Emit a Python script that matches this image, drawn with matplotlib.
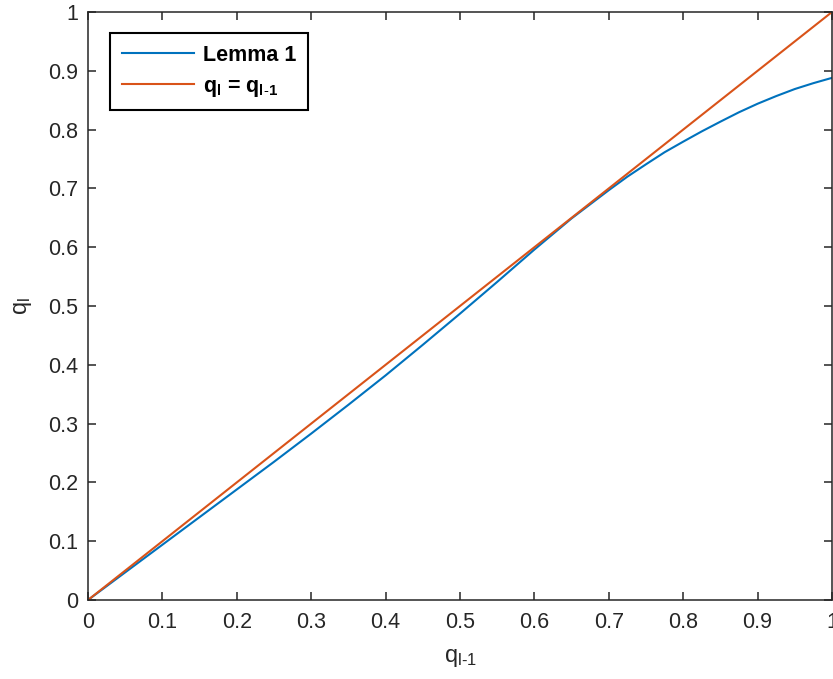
import numpy as np
import matplotlib
matplotlib.use("Agg")
import matplotlib.pyplot as plt

# Data
q_prev = [0.0, 0.05, 0.1, 0.15, 0.2, 0.25, 0.3, 0.35, 0.4, 0.45, 0.5,
          0.55, 0.6, 0.65, 0.7, 0.725, 0.75, 0.775, 0.8, 0.825, 0.85,
          0.875, 0.9, 0.925, 0.95, 0.975, 1.0]
lemma1 = [0.0, 0.047, 0.094, 0.141, 0.188, 0.235, 0.283, 0.332, 0.382, 0.434, 0.487,
          0.541, 0.596, 0.649, 0.697, 0.720, 0.741, 0.7615, 0.7795, 0.797, 0.8135,
          0.8295, 0.844, 0.857, 0.869, 0.879, 0.888]
identity_x = [0.0, 1.0]
identity_y = [0.0, 1.0]
ticks = [0, 0.1, 0.2, 0.3, 0.4, 0.5, 0.6, 0.7, 0.8, 0.9, 1]
tick_labels = ["0", "0.1", "0.2", "0.3", "0.4", "0.5", "0.6", "0.7", "0.8", "0.9", "1"]

plt.rcParams["font.family"] = ["Liberation Sans", "DejaVu Sans"]
plt.rcParams["mathtext.fontset"] = "custom"
plt.rcParams["mathtext.rm"] = "Liberation Sans"
plt.rcParams["mathtext.it"] = "Liberation Sans"
plt.rcParams["mathtext.bf"] = "Liberation Sans:bold"

W, H = 833, 679
fig = plt.figure(figsize=(W / 100, H / 100), dpi=100)
ax = fig.add_axes([88 / W, (H - 600) / H, (832 - 88) / W, (600 - 12) / H])

blue = "#0072BD"
orange = "#D95319"
dark = "#262626"

ax.plot(q_prev, lemma1, color=blue, lw=1.5, label="Lemma 1")
ax.plot(identity_x, identity_y, color=orange, lw=1.5,
        label=r"$\mathbf{q_l}$ = $\mathbf{q_{l\text{-}1}}$")

ax.set_xlim(0, 1)
ax.set_ylim(0, 1)
ax.set_xticks(ticks)
ax.set_xticklabels(tick_labels)
ax.set_yticks(ticks)
ax.set_yticklabels(tick_labels)

ax.tick_params(direction="in", length=5.5, width=1.1, top=True, right=True,
               labelsize=15.5, colors=dark)
ax.tick_params(axis="x", pad=9)
ax.tick_params(axis="y", pad=7)
for sp in ax.spines.values():
    sp.set_linewidth(1.1)
    sp.set_color(dark)

ax.set_xlabel(r"$\mathregular{q_{l\text{-}1}}$", fontsize=17, color=dark, labelpad=10)
ax.set_ylabel(r"$\mathregular{q_l}$", fontsize=17, color=dark, labelpad=10)

leg = ax.legend(loc="upper left", bbox_to_anchor=((110 - 88) / 744, (600 - 33) / 588),
                borderaxespad=0, prop={"weight": "bold", "size": 15.5},
                handlelength=3.35, frameon=True,
                fancybox=False, edgecolor="black", framealpha=1, borderpad=0.55,
                labelspacing=0.45, handletextpad=0.4)
leg.get_frame().set_linewidth(1.5)

fig.savefig("out.png", dpi=100)
